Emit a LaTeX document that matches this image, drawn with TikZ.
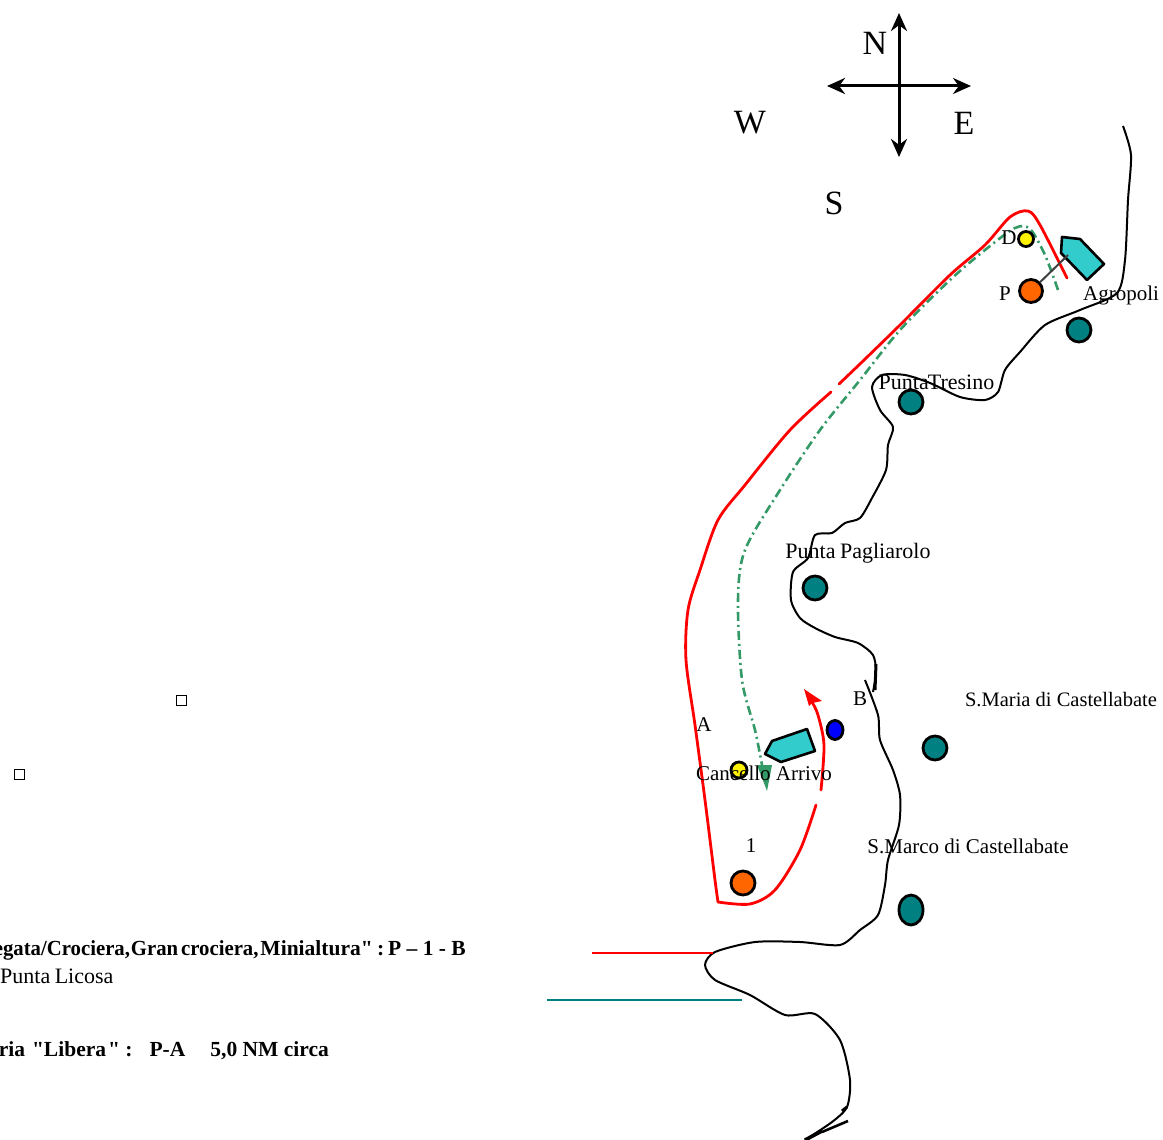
\documentclass[tikz,border=0pt]{standalone}
\usepackage{fontspec}
\usepackage{graphicx}
\setmainfont[Ligatures=TeXOff]{Liberation Serif}
\usetikzlibrary{arrows.meta,shapes.geometric}
\definecolor{teal1}{RGB}{0,128,128}
\definecolor{boatc}{RGB}{51,204,204}
\definecolor{orange1}{RGB}{255,102,0}
\definecolor{green1}{RGB}{51,153,102}
\tikzset{
 lbl/.style={inner sep=0pt,font=\fontsize{21}{23}\selectfont},
 lblb/.style={inner sep=0pt,font=\fontsize{22}{24}\selectfont},
 lbls/.style={inner sep=0pt,font=\fontsize{20.5}{22}\selectfont},
 big/.style={inner sep=0pt,font=\fontsize{34}{36}\selectfont},
 boldl/.style={inner sep=0pt,font=\fontsize{21.5}{23}\selectfont\bfseries},
 coast/.style={draw=black,line width=2pt,line join=round},
 redroute/.style={draw=red,line width=2.8pt,line cap=round,line join=round},
 greenroute/.style={draw=green1,line width=2.6pt,dash pattern=on 9pt off 4pt on 2pt off 4pt},
 compass/.style={line width=3pt,{Stealth[length=18pt,width=16pt]}-{Stealth[length=18pt,width=16pt]}},
 dot/.style={circle,draw=black,line width=2.8pt,inner sep=0pt},
 dotell/.style={ellipse,draw=black,line width=2.8pt,inner sep=0pt},
 boat/.style={draw=black,line width=2.6pt,fill=boatc,line join=round},
 box/.style={draw=black,line width=.8pt,fill=white,minimum size=10pt,inner sep=0pt,rectangle},
}
\begin{document}
\begin{tikzpicture}[x=1pt,y=-1pt]
\useasboundingbox (0,0) rectangle (1163,1140);
% coast
\draw[coast] plot[smooth,tension=0.45] coordinates {(1123,126)(1131,155)(1128,200)(1125,260)(1117,293)(1080,310)(1045,325)(1020,352)(1005,370)(998,392)(985,400)(960,397)(930,383)(905,375)(882,375)(872,387)(880,410)(893,427)(888,445)(886,470)(872,498)(860,518)(845,523)(832,533)(815,535)(808,558)(793,572)(791,600)(800,618)(815,628)(835,637)(858,643)(873,655)(876,672)(873,692)};
\draw[black,line width=3pt] (876,664)--(875,690);
\draw[coast] plot[smooth,tension=0.45] coordinates {(865,680)(878,715)(880,740)(893,770)(900,795)(899,825)(888,860)(885,885)(878,915)(860,930)(840,945)(800,942)(755,942)(715,952)(705,965)(715,980)(750,995)(785,1015)(815,1014)(840,1040)(850,1080)(847,1107)(832,1122)(805,1140)};
\draw[black,line width=3pt] (847,1107)--(842,1111);
\draw[black,line width=2.6pt] (848,1121)--(822,1132);
\draw[black,line width=3.6pt] (822,1131)--(805,1140);
% compass
\coordinate (cn) at (899,13); \coordinate (cs) at (899,157);
\coordinate (cw) at (827,86); \coordinate (ce) at (971,86);
\draw[compass] (cs)--(cn);
\draw[compass] (cw)--(ce);
% green route
\draw[greenroute] plot[smooth,tension=0.5] coordinates {(1058,290)(1045,255)(1030,229)(1015,228)(985,250)(950,280)(900,330)(860,380)(820,430)(780,490)(745,550)(738,600)(742,680)(755,730)(762,765)};
\fill[green1] (757,765)--(772,765)--(767,791)--cycle;
% red route
\draw[redroute] plot[smooth,tension=0.5] coordinates {(1067,278)(1040,225)(1028,211)(1010,217)(985,245)(950,275)(900,325)(862,362)(839,384)};
\draw[redroute] plot[smooth,tension=0.5] coordinates {(831,392)(790,430)(745,485)(718,520)(700,570)(688,610)(686,660)(695,725)(705,800)(715,880)(718,902)};
\draw[redroute] plot[smooth,tension=0.5] coordinates {(718,902)(750,904)(775,890)(800,850)(816,805)};
\draw[redroute] plot[smooth,tension=0.5] coordinates {(821,790)(824,745)(818,715)(812,702)};
\fill[red] (804,689)--(822,701)--(812,703)--(809,706)--cycle;
% boats
\draw[boat] (1062,237)--(1080,239)--(1104,264)--(1087,280)--(1061,253)--cycle;
\draw[boat] (765,754)--(772,741)--(807,729)--(815,751)--(781,762)--cycle;
% markers
\node[dot,fill=yellow,minimum size=15pt] (dD) at (1026,239) {};
\node[dot,fill=orange1,minimum size=23pt] (dP) at (1031,291) {};
\node[dot,fill=teal1,minimum size=24pt] (t1) at (1079,330) {};
\node[dot,fill=teal1,minimum size=24pt] (t2) at (911,402) {};
\node[dot,fill=teal1,minimum size=24pt] (t3) at (815,588) {};
\node[dot,fill=teal1,minimum size=24pt] (t4) at (935,748) {};
\node[dotell,fill=teal1,minimum width=24pt,minimum height=30pt] (t5) at (911,910) {};
\node[dotell,fill=blue,minimum width=16pt,minimum height=19pt] (db) at (835,730) {};
\node[dot,fill=yellow,minimum size=16pt] (dy) at (739,770) {};
\node[dot,fill=orange1,minimum size=24pt] (d1) at (743,883) {};
\coordinate (bt) at (1068,255);
\draw[black!75,line width=2pt] (dP)--(bt);
% squares
\node[box] (s1) at (181.5,700) {};
\node[box] (s2) at (19,774) {};
% legend lines
\coordinate (l1a) at (592,953); \coordinate (l1b) at (713,953);
\coordinate (l2a) at (547,999.5); \coordinate (l2b) at (742,999.5);
\draw[red,line width=2pt] (l1a)--(l1b);
\draw[teal1,line width=2pt] (l2a)--(l2b);
% labels
\node[big] (N) at (875,43) {N};
\node[big] (W) at (750,123) {W};
\node[big] (E) at (964,123) {E};
\node[big] (S) at (834,203) {S};
\node[lbl] (lD) at (1009,238) {D};
\node[lbl] (lP) at (1005,294) {P};
\node[lbl,anchor=west] (lAg) at (1083,295) {Agropoli};
\node[lblb] (lPT) at (936.5,382) {Punta\kern-1pt Tresino};
\node[lblb] (lPP) at (858,553) {Punta\kern-1pt\ Pagliarolo};
\node[lbl] (lB) at (860,699) {B};
\node[lbls] (lSM) at (1061,700) {S.Maria di Castellabate};
\node[lbl] (lA) at (704,725) {A};
\node[lbl] (lC) at (764,773) {Cancello Arrivo};
\node[lbl] (l1) at (751,846) {1};
\node[lbl] (lSC) at (968,846) {S.Marco di Castellabate};
\node[boldl,anchor=east] (t1a) at (466,950) {\scalebox{0.965}[1]{egata/Crociera,\kern1pt Gran\kern3pt crociera,}\kern2pt Minialtura"\kern-1pt\ :\kern-1.5pt\ P – 1 - B};
\node[lblb,anchor=west] (t1b) at (0,976) {Punta\kern-1pt\ Licosa};
\node[boldl,anchor=east] (t2a) at (329,1051) {ria\kern7pt"Libera\kern2pt" :\kern17pt P-A\kern25pt 5,0 NM circa};
\end{tikzpicture}
\end{document}
